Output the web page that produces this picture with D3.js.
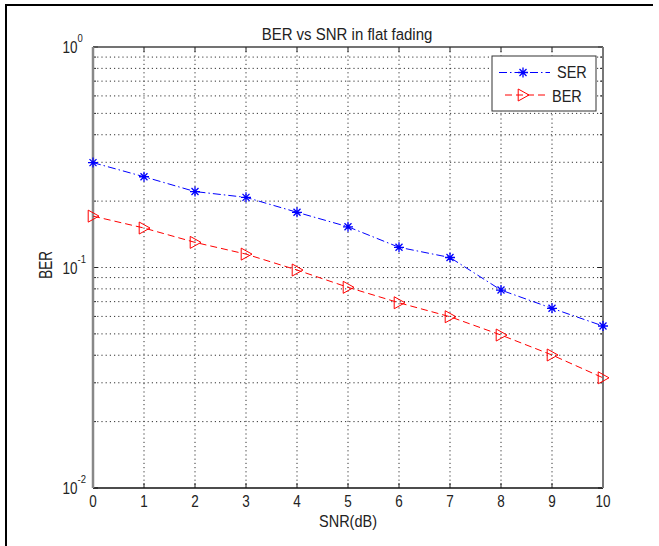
<!DOCTYPE html>
<html><head><meta charset="utf-8">
<script src="https://cdn.jsdelivr.net/npm/d3@7"></script>
<style>body{margin:0;background:#fff}svg{display:block}text{font-family:"Liberation Sans",Arial,sans-serif;fill:#222}</style>
</head><body>
<svg id="c" width="659" height="546"></svg>
<script>
const snr = [0,1,2,3,4,5,6,7,8,9,10];
const serValues = [0.299,0.258,0.221,0.208,0.178,0.153,0.1235,0.111,0.079,0.0653,0.0543];
const berValues = [0.171,0.151,0.130,0.115,0.0974,0.0813,0.0692,0.0598,0.0494,0.0401,0.0316];
const xTickLabels = ["0","1","2","3","4","5","6","7","8","9","10"];
const yDecades = [1,0.1,0.01];
const yDecadeExp = ["0","-1","-2"];
const titleText = "BER vs SNR in flat fading";
const xLabel = "SNR(dB)";
const yLabel = "BER";
const seriesNames = ["SER","BER"];

const svg = d3.select("#c");
const L=93,R=603,T=47,B=488;
const x = d3.scaleLinear().domain([0,10]).range([L,R]);
const y = d3.scaleLog().domain([0.01,1]).range([B,T]);

// stretched text helper (reference glyphs are taller than wide)
function stext(sel,tx,ty,str,size,sy,anchor,rot){
  const g = sel.append("g").attr("transform",`translate(${tx},${ty})`+(rot?` rotate(${rot})`:"")+` scale(1,${sy})`);
  return g.append("text").attr("x",0).attr("y",0).attr("text-anchor",anchor||"start").attr("font-size",size).text(str);
}

// outer frame
svg.append("line").attr("x1",5).attr("x2",653).attr("y1",5).attr("y2",5).attr("stroke","#000").attr("stroke-width",2);
svg.append("line").attr("x1",6).attr("x2",6).attr("y1",4).attr("y2",546).attr("stroke","#000").attr("stroke-width",2);

// grid
const minors=[];
for (let k=-2;k<0;k++) for (let m=1;m<10;m++) minors.push(m*Math.pow(10,k));
minors.push(1);
const g = svg.append("g");
minors.forEach(v=>{
  if (v===1 || Math.abs(v-0.01)<1e-9) return;
  g.append("line").attr("x1",L).attr("x2",R).attr("y1",y(v)).attr("y2",y(v))
   .attr("stroke","#333").attr("stroke-width",1).attr("stroke-dasharray","1.2,3");
});
snr.forEach(v=>{
  if (v===0||v===10) return;
  g.append("line").attr("x1",x(v)).attr("x2",x(v)).attr("y1",T).attr("y2",B)
   .attr("stroke","#333").attr("stroke-width",1).attr("stroke-dasharray","1.2,3");
});

// ticks
snr.forEach(v=>{
  g.append("line").attr("x1",x(v)).attr("x2",x(v)).attr("y1",B).attr("y2",B-5).attr("stroke","#222");
  g.append("line").attr("x1",x(v)).attr("x2",x(v)).attr("y1",T).attr("y2",T+5).attr("stroke","#222");
});
minors.forEach(v=>{
  const isMaj = yDecades.some(d=>Math.abs(d-v)<1e-9);
  const len = isMaj?5:3;
  g.append("line").attr("x1",L).attr("x2",L+len).attr("y1",y(v)).attr("y2",y(v)).attr("stroke","#222");
  g.append("line").attr("x1",R).attr("x2",R-len).attr("y1",y(v)).attr("y2",y(v)).attr("stroke","#222");
});

// axes box
svg.append("line").attr("x1",L).attr("x2",R).attr("y1",B).attr("y2",B).attr("stroke","#111").attr("stroke-width",1.5);
svg.append("line").attr("x1",L).attr("x2",R).attr("y1",T).attr("y2",T).attr("stroke","#444").attr("stroke-width",1.5);
svg.append("line").attr("x1",L).attr("x2",L).attr("y1",T).attr("y2",B).attr("stroke","#888").attr("stroke-width",2.5);
svg.append("line").attr("x1",R).attr("x2",R).attr("y1",T).attr("y2",B).attr("stroke","#777").attr("stroke-width",2);

// tick labels
snr.forEach((v,i)=>{
  stext(svg,x(v),507,xTickLabels[i],13.5,1.22,"middle");
});
yDecades.forEach((v,i)=>{
  stext(svg,77.5,y(v)+6,"10",13.5,1.22,"end");
  stext(svg,77.5,y(v)-5,yDecadeExp[i],9.5,1.15,"start");
});

// labels
stext(svg,347,40,titleText,15,1.12,"middle");
stext(svg,348,527,xLabel,14.5,1.1,"middle");
stext(svg,52,265,yLabel,13.5,1.3,"middle",-90);

// series
const line = d3.line().x((d,i)=>x(snr[i])).y(d=>y(d));
svg.append("path").datum(serValues).attr("d",line).attr("fill","none").attr("stroke","#0000ff").attr("stroke-width",1).attr("stroke-dasharray","8,3,1.5,3");
svg.append("path").datum(berValues).attr("d",line).attr("fill","none").attr("stroke","#ff0000").attr("stroke-width",1).attr("stroke-dasharray","7,4");

function star(sel,cx,cy,col){
  const s=5;
  const p=`M${cx-s},${cy}L${cx+s},${cy}M${cx},${cy-s}L${cx},${cy+s}M${cx-s*0.7},${cy-s*0.7}L${cx+s*0.7},${cy+s*0.7}M${cx-s*0.7},${cy+s*0.7}L${cx+s*0.7},${cy-s*0.7}`;
  sel.append("path").attr("d",p).attr("stroke",col).attr("stroke-width",1.3).attr("fill","none");
}
function tri(sel,cx,cy,col){
  const s=6;
  const p=`M${cx-s*0.8},${cy-s}L${cx+s},${cy}L${cx-s*0.8},${cy+s}Z`;
  sel.append("path").attr("d",p).attr("stroke",col).attr("stroke-width",1).attr("fill","none");
}
serValues.forEach((v,i)=>star(svg,x(snr[i]),y(v),"#0000ff"));
berValues.forEach((v,i)=>tri(svg,x(snr[i]),y(v),"#ff0000"));

// legend
const lg = svg.append("g");
lg.append("rect").attr("x",492).attr("y",56).attr("width",104).attr("height",55).attr("fill","#fff").attr("stroke","#333").attr("stroke-width",1);
lg.append("line").attr("x1",499).attr("x2",550).attr("y1",72.5).attr("y2",72.5).attr("stroke","#0000ff").attr("stroke-dasharray","8,3,1.5,3");
star(lg,523,72.5,"#0000ff");
stext(lg,557,78.3,seriesNames[0],14.5,1.15,"start");
lg.append("line").attr("x1",505).attr("x2",549).attr("y1",95).attr("y2",95).attr("stroke","#ff0000").attr("stroke-dasharray","7,4");
tri(lg,523,95,"#ff0000");
stext(lg,552,101.5,seriesNames[1],14.5,1.15,"start");
</script>
</body></html>
